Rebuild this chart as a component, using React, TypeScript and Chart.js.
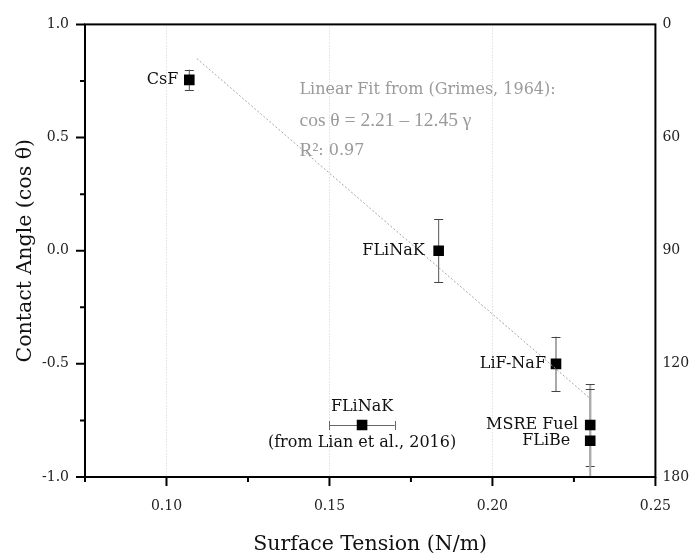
import React, { useEffect, useRef } from 'react';
import { Chart, registerables } from 'chart.js';

Chart.register(...registerables);

// ---- data ----
const saltNames = ['CsF', 'FLiNaK', 'LiF-NaF', 'MSRE Fuel', 'FLiBe'];
const surfaceTension = [0.107, 0.1835, 0.2195, 0.23, 0.23];
const contactCos = [0.755, 0.0, -0.5, -0.77, -0.84];
const contactCosErr = [0.045, 0.14, 0.12, 0.18, 0.23];

const lianName = 'FLiNaK';
const lianSource = '(from Lian et al., 2016)';
const lianTension = [0.16];
const lianCos = [-0.77];
const lianTensionErr = [0.01];

// Linear fit (Grimes, 1964): cos θ = 2.21 − 12.45 γ
const fitIntercept = 2.21;
const fitSlope = -12.45;
const fitRange = [0.1093, 0.23];
const fitTitle = 'Linear Fit from (Grimes, 1964):';
const fitEquation = 'cos θ = 2.21 – 12.45 γ';
const fitR2Label = 'R²';
const fitR2Value = ': 0.97';

const xLabelTicks = [0.1, 0.15, 0.2, 0.25];
const xMinorTicks = [0.075, 0.125, 0.175, 0.225];
const yLabelTicks = [-1, -0.5, 0, 0.5, 1];
const yMinorTicks = [-0.75, -0.25, 0.25, 0.75];
const angleTicks = [0, 60, 90, 120, 180];

// ---- styles / layout ----
const SERIF = '"DejaVu Serif", serif';
const TIMES = '"Liberation Serif", "Times New Roman", serif';
const labelGaps = [11, 14, 10, 12, 20];
const stemColors = ['#555', '#555', '#555', '#aaa', '#aaa'];
const stemWidths = [1, 1, 1, 2, 2];
const CAP = 4.5;

const fitPoints = fitRange.map((x) => ({ x, y: fitIntercept + fitSlope * x }));

const overlayPlugin = {
  id: 'overlay',
  beforeDatasetsDraw(chart: any) {
    const { ctx, chartArea } = chart;
    const xs = chart.scales.x;
    const ys = chart.scales.y;
    ctx.save();
    ctx.beginPath();
    ctx.rect(chartArea.left, chartArea.top, chartArea.right - chartArea.left, chartArea.bottom - chartArea.top);
    ctx.clip();
    // vertical error bars
    surfaceTension.forEach((t, i) => {
      const px = xs.getPixelForValue(t);
      const y1 = ys.getPixelForValue(contactCos[i] + contactCosErr[i]);
      const y2 = ys.getPixelForValue(contactCos[i] - contactCosErr[i]);
      ctx.strokeStyle = stemColors[i];
      ctx.lineWidth = stemWidths[i];
      ctx.beginPath();
      ctx.moveTo(px, y1);
      ctx.lineTo(px, y2);
      ctx.stroke();
      ctx.strokeStyle = '#444';
      ctx.lineWidth = 1;
      ctx.beginPath();
      ctx.moveTo(px - CAP, Math.round(y1) + 0.5);
      ctx.lineTo(px + CAP, Math.round(y1) + 0.5);
      ctx.moveTo(px - CAP, Math.round(y2) + 0.5);
      ctx.lineTo(px + CAP, Math.round(y2) + 0.5);
      ctx.stroke();
    });
    // horizontal error bar
    lianTension.forEach((t, i) => {
      const py = Math.round(ys.getPixelForValue(lianCos[i])) + 0.5;
      const x1 = xs.getPixelForValue(t - lianTensionErr[i]);
      const x2 = xs.getPixelForValue(t + lianTensionErr[i]);
      ctx.strokeStyle = '#666';
      ctx.lineWidth = 1;
      ctx.beginPath();
      ctx.moveTo(x1, py);
      ctx.lineTo(x2, py);
      ctx.moveTo(Math.round(x1) + 0.5, py - CAP);
      ctx.lineTo(Math.round(x1) + 0.5, py + CAP);
      ctx.moveTo(Math.round(x2) + 0.5, py - CAP);
      ctx.lineTo(Math.round(x2) + 0.5, py + CAP);
      ctx.stroke();
    });
    ctx.restore();
  },
  afterDraw(chart: any) {
    const { ctx, chartArea } = chart;
    const { left, right, top, bottom } = chartArea;
    const xs = chart.scales.x;
    const ys = chart.scales.y;
    ctx.save();
    // point labels
    ctx.fillStyle = '#111';
    ctx.font = `16px ${SERIF}`;
    ctx.textBaseline = 'middle';
    ctx.textAlign = 'right';
    saltNames.forEach((name, i) => {
      const px = xs.getPixelForValue(surfaceTension[i]);
      const py = ys.getPixelForValue(contactCos[i]);
      ctx.fillText(name, px - labelGaps[i], py);
    });
    ctx.textAlign = 'center';
    const lx = xs.getPixelForValue(lianTension[0]);
    const ly = ys.getPixelForValue(lianCos[0]);
    ctx.fillText(lianName, lx, ly - 18);
    ctx.fillText(lianSource, lx, ly + 18);

    // fit annotation
    const ax = xs.getPixelForValue(0.1408);
    const ay = ys.getPixelForValue(0.71);
    ctx.textAlign = 'left';
    ctx.fillStyle = '#9a9a9a';
    ctx.font = `16px ${SERIF}`;
    ctx.fillText(fitTitle, ax, ay);
    ctx.font = `19.5px ${TIMES}`;
    ctx.fillText(fitEquation, ax, ay + 31);
    ctx.fillText(fitR2Label, ax, ay + 61);
    const rw = ctx.measureText(fitR2Label).width;
    ctx.font = `16px ${SERIF}`;
    ctx.fillText(fitR2Value, ax + rw, ay + 61);

    // frame
    ctx.strokeStyle = '#000';
    ctx.lineWidth = 2;
    ctx.strokeRect(left, top, right - left, bottom - top);

    // tick marks
    ctx.beginPath();
    xLabelTicks.forEach((v) => {
      const p = xs.getPixelForValue(v);
      ctx.moveTo(p, bottom);
      ctx.lineTo(p, bottom + 9);
    });
    xMinorTicks.forEach((v) => {
      const p = xs.getPixelForValue(v);
      ctx.moveTo(p, bottom);
      ctx.lineTo(p, bottom + 5);
    });
    yLabelTicks.forEach((v) => {
      const p = ys.getPixelForValue(v);
      ctx.moveTo(left, p);
      ctx.lineTo(left - 9, p);
    });
    yMinorTicks.forEach((v) => {
      const p = ys.getPixelForValue(v);
      ctx.moveTo(left, p);
      ctx.lineTo(left - 5, p);
    });
    ctx.stroke();
    ctx.restore();
  },
};

export default function App() {
  const ref = useRef<HTMLCanvasElement>(null);

  useEffect(() => {
    const tickFont = { family: SERIF, size: 14 };
    const titleFont = { family: SERIF, size: 20.5 };
    const chart = new Chart(ref.current as HTMLCanvasElement, {
      type: 'scatter',
      data: {
        datasets: [
          {
            type: 'line',
            label: 'fit',
            data: fitPoints,
            borderColor: '#a5a5a5',
            borderWidth: 1,
            borderDash: [2, 2],
            pointRadius: 0,
            fill: false,
          } as any,
          {
            label: 'salts',
            data: surfaceTension.map((x, i) => ({ x, y: contactCos[i] })),
            pointStyle: 'rect',
            pointRadius: 7.5,
            backgroundColor: '#000',
            borderColor: '#000',
            borderWidth: 0,
          },
          {
            label: 'lian',
            data: lianTension.map((x, i) => ({ x, y: lianCos[i] })),
            pointStyle: 'rect',
            pointRadius: 7.5,
            backgroundColor: '#000',
            borderColor: '#000',
            borderWidth: 0,
          },
        ],
      },
      options: {
        animation: false,
        responsive: true,
        maintainAspectRatio: false,
        layout: { padding: { top: 21, left: 0, right: 0, bottom: 0 } },
        plugins: { legend: { display: false }, tooltip: { enabled: false } },
        scales: {
          x: {
            type: 'linear',
            min: 0.075,
            max: 0.25,
            afterBuildTicks: (s: any) => {
              s.ticks = xLabelTicks.map((value) => ({ value }));
            },
            ticks: {
              autoSkip: false,
              maxRotation: 0,
              padding: 21,
              color: '#222',
              font: tickFont,
              callback: (v: any) => Number(v).toFixed(2),
            },
            grid: {
              drawTicks: false,
              lineWidth: 1,
              color: (c: any) =>
                c.tick && Math.abs(c.tick.value - 0.25) < 1e-9 ? 'rgba(0,0,0,0)' : '#cfcfcf',
            },
            border: { display: false, dash: [1, 2] },
            title: {
              display: true,
              text: 'Surface Tension (N/m)',
              color: '#111',
              font: titleFont,
              padding: { top: 0, bottom: 0 },
            },
            afterFit: (s: any) => {
              s.height = 80;
            },
          },
          y: {
            type: 'linear',
            position: 'left',
            min: -1,
            max: 1,
            afterBuildTicks: (s: any) => {
              s.ticks = yLabelTicks.map((value) => ({ value }));
            },
            ticks: {
              autoSkip: false,
              padding: 16,
              color: '#222',
              font: tickFont,
              callback: (v: any) => Number(v).toFixed(1),
            },
            grid: { drawOnChartArea: false, drawTicks: false },
            border: { display: false },
            title: {
              display: true,
              text: 'Contact Angle (cos θ)',
              color: '#111',
              font: titleFont,
              padding: { top: 13, bottom: 0 },
            },
            afterFit: (s: any) => {
              s.width = 85;
            },
          },
          y2: {
            type: 'linear',
            position: 'right',
            min: -1,
            max: 1,
            afterBuildTicks: (s: any) => {
              s.ticks = angleTicks.map((a) => ({ value: Math.cos((a * Math.PI) / 180) }));
            },
            ticks: {
              autoSkip: false,
              padding: 7,
              color: '#222',
              font: tickFont,
              callback: (v: any) =>
                String(Math.round((Math.acos(Math.max(-1, Math.min(1, Number(v)))) * 180) / Math.PI)),
            },
            grid: { display: false, drawTicks: false },
            border: { display: false },
            afterFit: (s: any) => {
              s.width = 35;
            },
          },
        },
      },
      plugins: [overlayPlugin],
    } as any);
    return () => chart.destroy();
  }, []);

  return (
    <div style={{ position: 'absolute', left: 0, top: 0, width: 692, height: 557, background: '#fff' }}>
      <canvas ref={ref} />
    </div>
  );
}
